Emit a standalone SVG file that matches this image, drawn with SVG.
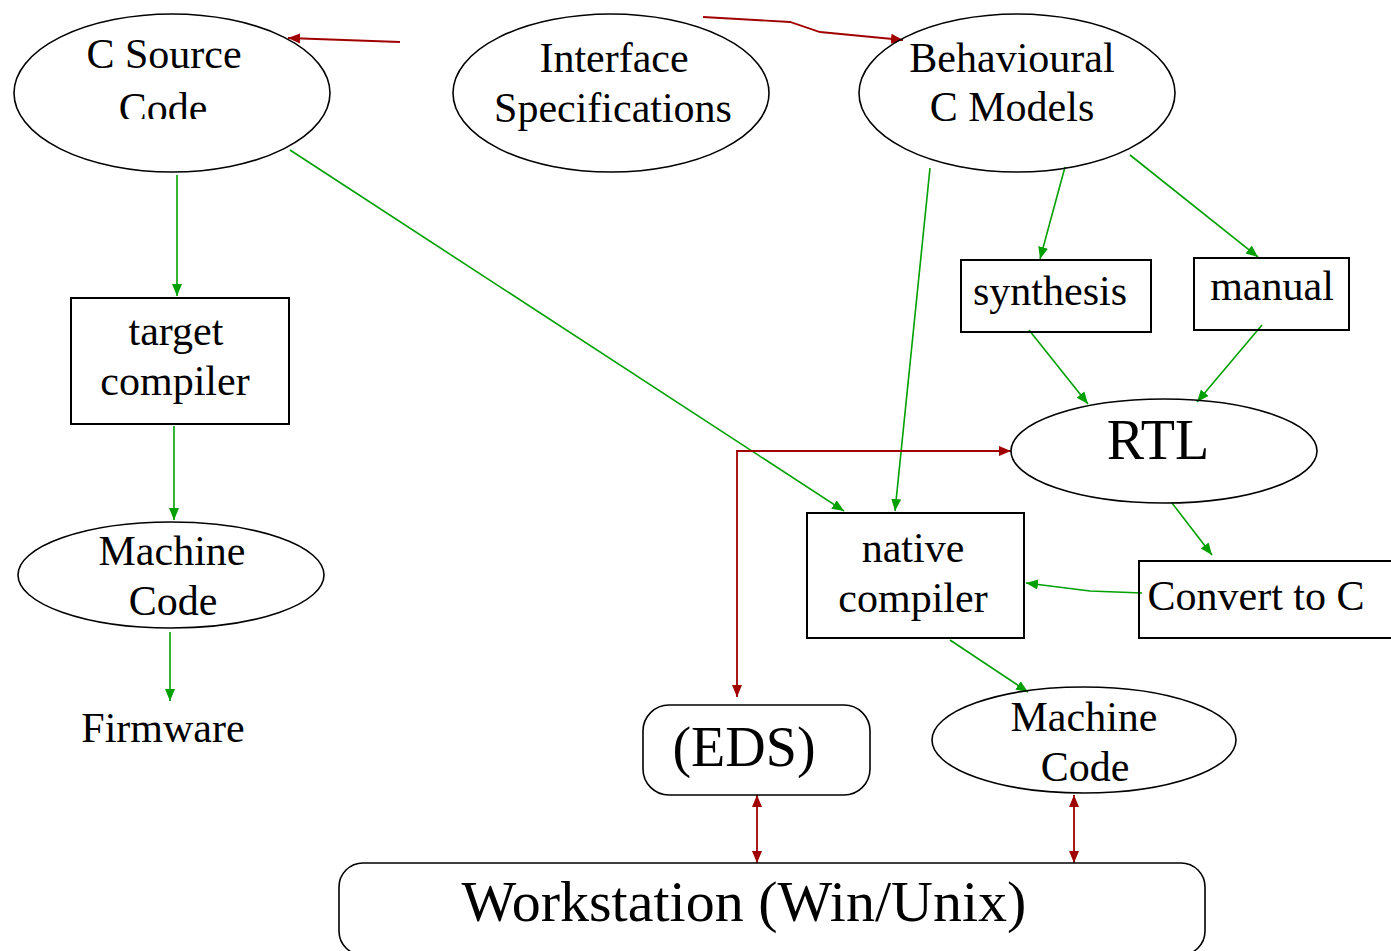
<svg xmlns="http://www.w3.org/2000/svg" width="1391" height="951" viewBox="0 0 1391 951">
  <style>
    .lbl { font-family: "Liberation Serif", "Times New Roman", serif; font-size: 42px; fill: #000; text-anchor: middle; }
    .big { font-size: 56px; }
    .huge { font-size: 58px; }
    .shape { fill: none; stroke: #000; stroke-width: 1.6; }
    .box { fill: none; stroke: #000; stroke-width: 2; }
    .green { fill: none; stroke: #00a000; stroke-width: 1.6; }
    .red { fill: none; stroke: #a00000; stroke-width: 1.8; }
  </style>
  <defs>
    <marker id="gArrow" markerUnits="userSpaceOnUse" markerWidth="13" markerHeight="12" refX="12" refY="6" orient="auto">
      <path d="M0,1 L12,6 L0,11 z" fill="#00a000"/>
    </marker>
    <marker id="rArrow" markerUnits="userSpaceOnUse" markerWidth="13" markerHeight="12" refX="12" refY="6" orient="auto-start-reverse">
      <path d="M0,1 L12,6 L0,11 z" fill="#a00000"/>
    </marker>
    <clipPath id="csClip">
      <rect x="0" y="0" width="400" height="119"/>
    </clipPath>
  </defs>

  <rect x="0" y="0" width="1391" height="951" fill="#fff"/>

  <!-- connectors -->
  <g id="connectors">
    <path class="green" d="M177,175 L177,296" marker-end="url(#gArrow)"/>
    <path class="green" d="M290,150 L844,511" marker-end="url(#gArrow)"/>
    <path class="green" d="M930,168 L895,511" marker-end="url(#gArrow)"/>
    <path class="green" d="M1065,167 L1040,259" marker-end="url(#gArrow)"/>
    <path class="green" d="M1130,155 L1258,257" marker-end="url(#gArrow)"/>
    <path class="green" d="M1029,330 L1088,404" marker-end="url(#gArrow)"/>
    <path class="green" d="M1262,325 L1197,402" marker-end="url(#gArrow)"/>
    <path class="green" d="M1172,503 L1212,555" marker-end="url(#gArrow)"/>
    <path class="green" d="M1142,593 L1090,591 L1026,583" marker-end="url(#gArrow)"/>
    <path class="green" d="M950,640 L1028,692" marker-end="url(#gArrow)"/>
    <path class="green" d="M174,426 L174,520" marker-end="url(#gArrow)"/>
    <path class="green" d="M170,632 L170,701" marker-end="url(#gArrow)"/>

    <path class="red" d="M400,42 L288,38" marker-end="url(#rArrow)"/>
    <path class="red" d="M703,17 L790,22 L820,32 L903,40" marker-end="url(#rArrow)"/>
    <path class="red" d="M737,697 L737,451 L1011,451" marker-start="url(#rArrow)" marker-end="url(#rArrow)"/>
    <path class="red" d="M757,795 L757,863" marker-start="url(#rArrow)" marker-end="url(#rArrow)"/>
    <path class="red" d="M1074,795 L1074,863" marker-start="url(#rArrow)" marker-end="url(#rArrow)"/>
  </g>

  <g id="c-source-code">
    <ellipse class="shape" cx="172" cy="93" rx="158" ry="79"/>
    <text class="lbl" x="164" y="68">C Source</text>
    <text class="lbl" x="163" y="122" clip-path="url(#csClip)">Code</text>
  </g>

  <g id="interface-specifications">
    <ellipse class="shape" cx="611" cy="93" rx="158" ry="79"/>
    <text class="lbl" x="614" y="72">Interface</text>
    <text class="lbl" x="613" y="122">Specifications</text>
  </g>

  <g id="behavioural-c-models">
    <ellipse class="shape" cx="1017" cy="93" rx="158" ry="79"/>
    <text class="lbl" x="1012" y="72">Behavioural</text>
    <text class="lbl" x="1012" y="121">C Models</text>
  </g>

  <g id="target-compiler">
    <rect class="box" x="71" y="298" width="218" height="126"/>
    <text class="lbl" x="176" y="345">target</text>
    <text class="lbl" x="175" y="395">compiler</text>
  </g>

  <g id="machine-code-target">
    <ellipse class="shape" cx="171" cy="575" rx="153" ry="53"/>
    <text class="lbl" x="172" y="565">Machine</text>
    <text class="lbl" x="173" y="615">Code</text>
  </g>

  <g id="firmware">
    <text class="lbl" x="163" y="742">Firmware</text>
  </g>

  <g id="synthesis">
    <rect class="box" x="961" y="260" width="190" height="72"/>
    <text class="lbl" x="1050" y="305">synthesis</text>
  </g>

  <g id="manual">
    <rect class="box" x="1194" y="258" width="155" height="72"/>
    <text class="lbl" x="1272" y="300">manual</text>
  </g>

  <g id="rtl">
    <ellipse class="shape" cx="1164" cy="451" rx="153" ry="52"/>
    <text class="lbl big" x="1158" y="459">RTL</text>
  </g>

  <g id="native-compiler">
    <rect class="box" x="807" y="513" width="217" height="125"/>
    <text class="lbl" x="913" y="562">native</text>
    <text class="lbl" x="913" y="612">compiler</text>
  </g>

  <g id="convert-to-c">
    <rect class="box" x="1139" y="561" width="262" height="77"/>
    <text class="lbl" x="1256" y="610">Convert to C</text>
  </g>

  <g id="eds">
    <rect class="shape" x="643" y="705" width="227" height="90" rx="26"/>
    <text class="lbl big" x="744" y="766">(EDS)</text>
  </g>

  <g id="machine-code-native">
    <ellipse class="shape" cx="1084" cy="740" rx="152" ry="53"/>
    <text class="lbl" x="1084" y="731">Machine</text>
    <text class="lbl" x="1085" y="781">Code</text>
  </g>

  <g id="workstation">
    <rect class="shape" x="339" y="863" width="866" height="92" rx="24"/>
    <text class="lbl huge" x="744" y="921">Workstation (Win/Unix)</text>
  </g>
</svg>
